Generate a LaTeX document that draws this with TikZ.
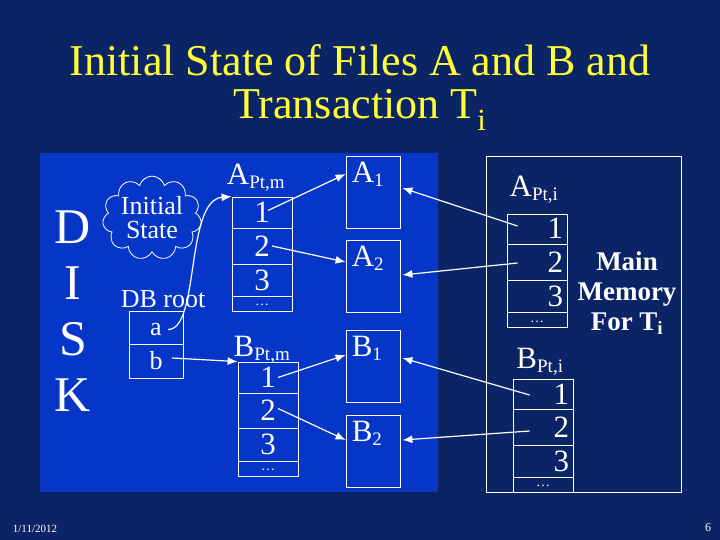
\documentclass[tikz,border=0pt]{standalone}
\usepackage{fontspec}
\setmainfont{Liberation Serif}
\usetikzlibrary{shapes.symbols, arrows.meta, positioning, calc}
\definecolor{navy}{HTML}{0A2466}
\definecolor{diskblue}{HTML}{0636C8}
\definecolor{titleyellow}{HTML}{FFFF33}
\newcommand{\fsz}[1]{\fontsize{#1}{#1}\selectfont}
\tikzset{
  cell/.style={draw=white, thick, minimum width=60, inner sep=0pt, text=white, font=\fsz{31},
    text height=20pt, text depth=0pt},
  dots/.style={cell, minimum height=15, text height=4pt, text depth=0pt, font=\fsz{14}},
  blockbox/.style={draw=white, thick, minimum width=54, minimum height=72, inner sep=0pt},
  lbl/.style={text=white, font=\fsz{31}},
  ptr/.style={white, very thick, -{Latex[length=10pt,width=8pt]}},
}
\begin{document}
\begin{tikzpicture}[x=1pt, y=-1pt]
\useasboundingbox (0,0) rectangle (720,540);
\fill[navy] (0,0) rectangle (720,540);
\fill[diskblue] (40,153) rectangle (438,492);
\draw[white, thick] (486,156) rectangle (681,492);

% Title
\node[text=titleyellow, font=\fsz{44}] (title1) at (360,60) {Initial State of Files A and B and};
\node[text=titleyellow, font=\fsz{44}] (title2) at (360,110) {Transaction T\textsubscript{i}};

% DISK letters
\foreach \ch [count=\k] in {D,I,S,K}
  \node[text=white, font=\fsz{50}] (disk\k) at (73,{171+56*\k}) {\ch};

% Cloud and DB root
\node[cloud, draw=white, thick, cloud puffs=11, aspect=1.3, inner sep=0pt, text=white,
  align=center, font=\fsz{26}, minimum width=94, minimum height=74] (cloud) at (152,218) {Initial\\[-2pt]State};
\node[lbl, font=\fsz{26}] (dbroot) at (163,299) {DB root};
\node[cell, minimum width=54, minimum height=33, font=\fsz{26}, text height=16pt] (ra) at (156,327.5) {a};
\node[cell, minimum width=54, minimum height=34, font=\fsz{26}, text height=16pt] (rb) at (156,361) {b};

% A_Pt,m table
\node[lbl] (amlbl) at (256,178) {A\textsubscript{\fsz{19}Pt,m}};
\node[cell, minimum height=31] (am1) at (262,212.5) {1};
\node[cell, minimum height=36] (am2) at (262,246) {2};
\node[cell, minimum height=32] (am3) at (262,280) {3};
\node[dots] (am4) at (262,303.5) {\dots};

% B_Pt,m table
\node[lbl] (bmlbl) at (262,350) {B\textsubscript{\fsz{19}Pt,m}};
\node[cell, minimum height=31] (bm1) at (268,377.5) {1};
\node[cell, minimum height=35] (bm2) at (268,410.5) {2};
\node[cell, minimum height=33] (bm3) at (268,444.5) {3};
\node[dots] (bm4) at (268,468.5) {\dots};

% disk blocks
\node[blockbox] (a1) at (373,192) {};
\node[blockbox] (a2) at (373,276) {};
\node[blockbox] (b1) at (373,366) {};
\node[blockbox] (b2) at (373,451) {};
\node[lbl, anchor=north west, inner sep=6pt] at (a1.north west) {A\textsubscript{\fsz{19}1}};
\node[lbl, anchor=north west, inner sep=6pt] at (a2.north west) {A\textsubscript{\fsz{19}2}};
\node[lbl, anchor=north west, inner sep=6pt] at (b1.north west) {B\textsubscript{\fsz{19}1}};
\node[lbl, anchor=north west, inner sep=6pt] at (b2.north west) {B\textsubscript{\fsz{19}2}};

% A_Pt,i table
\node[lbl] (ailbl) at (534,190) {A\textsubscript{\fsz{19}Pt,i}};
\node[cell, minimum height=30, text width=52, align=right] (ai1) at (537,229) {1};
\node[cell, minimum height=36, text width=52, align=right] (ai2) at (537,262) {2};
\node[cell, minimum height=32, text width=52, align=right] (ai3) at (537,296) {3};
\node[dots] (ai4) at (537,320) {\dots};

% B_Pt,i table
\node[lbl] (bilbl) at (540,362) {B\textsubscript{\fsz{19}Pt,i}};
\node[cell, minimum height=30, text width=52, align=right] (bi1) at (543,394) {1};
\node[cell, minimum height=36, text width=52, align=right] (bi2) at (543,427) {2};
\node[cell, minimum height=32, text width=52, align=right] (bi3) at (543,461) {3};
\node[dots] (bi4) at (543,484.5) {\dots};

\node[text=white, font=\bfseries\fsz{27}, align=center] (mainmem) at (627,293) {Main\\[3pt]Memory\\[3pt]For T\textsubscript{i}};

% pointers on disk
\draw[ptr] ($(ra.center)+(12,2)$) .. controls (200,330) and (185,200) .. (am1.north west);
\draw[ptr] ($(rb.center)+(16,-3)$) -- (bm1.north west);
\draw[ptr] ($(am1.center)+(6,-2)$) -- (a1.north west |- 0,174);
\draw[ptr] ($(am2.center)+(10,0)$) -- (a2.north west |- 0,262);
\draw[ptr] ($(bm1.center)+(10,0)$) -- (b1.north west |- 0,355);
\draw[ptr] ($(bm2.center)+(10,-2)$) -- (b2.north west |- 0,440);

% memory pointers
\draw[ptr] ($(ai1.west)+(11,-3)$) -- ($(a1.east)+(2,-4)$);
\draw[ptr] ($(ai2.west)+(11,1)$) -- ($(a2.east)+(2,-1)$);
\draw[ptr] ($(bi1.west)+(17,1)$) -- ($(b1.east)+(2,-8)$);
\draw[ptr] ($(bi2.west)+(17,4)$) -- ($(b2.east)+(2,-11)$);

% footer
\node[text=white, font=\fsz{11}] (date) at (35,529) {1/11/2012};
\node[text=white, font=\fsz{12}] (page) at (708,528) {6};
\end{tikzpicture}
\end{document}
